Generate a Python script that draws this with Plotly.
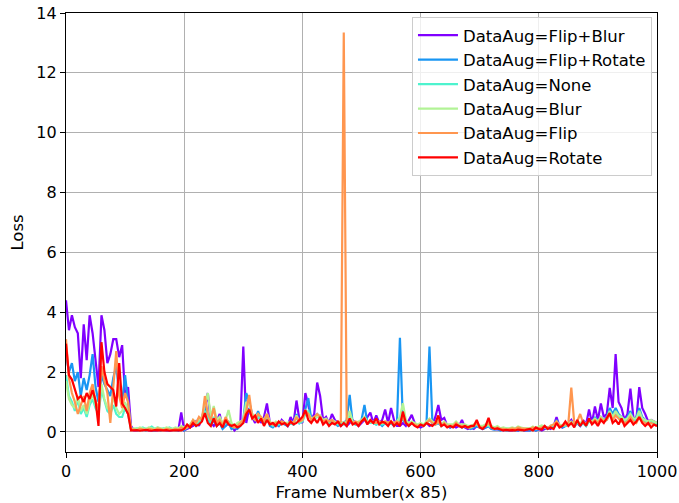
import plotly.graph_objects as go

frames = list(range(0, 1001, 5))

names = ["DataAug=Flip+Blur", "DataAug=Flip+Rotate", "DataAug=None",
         "DataAug=Blur", "DataAug=Flip", "DataAug=Rotate"]
colors = ["#8000ff", "#1996f3", "#4df3ce", "#b2f396", "#ff964f", "#ff0000"]

flip_blur = (
    [4.4, 3.4, 3.9, 3.5, 3.3, 1.8, 3.6, 2.4, 3.9, 3.3, 2.4, 1.5, 3.9, 3.4, 2.3, 2.6, 3.1, 3.1, 2.5, 2.9, 1.2, 1.5, 0.2]
    + [0.05, 0.05, 0.08, 0.06, 0.1, 0.05, 0.04, 0.06, 0.05, 0.08, 0.06, 0.05, 0.04, 0.06, 0.1, 0.05, 0.65]
    + [0.05, 0.1, 0.15, 0.2, 0.35, 0.2, 0.5, 0.8, 1.3, 0.3, 0.2, 0.35, 0.6, 0.15, 0.2, 0.3, 0.2, 0.05, 0.15, 0.3, 2.85, 0.3, 0.8, 0.5, 0.3, 0.6, 0.3]
    + [0.5, 0.95, 0.3, 0.2, 0.3, 0.2, 0.4, 0.3, 0.2, 0.5, 0.3, 1.05, 0.4, 0.3, 1.3, 0.9, 0.4, 0.6, 1.65, 1.2,
       0.4, 0.5, 0.3, 0.6, 0.4, 0.3, 0.2, 0.3, 0.2, 0.3, 0.4, 0.3, 0.2, 0.3, 0.4, 0.5, 0.65, 0.3, 0.55, 0.3,
       0.4, 0.75, 0.3, 0.8, 0.4, 0.2]
    + [0.2, 0.3, 0.2, 0.4, 0.57, 0.3, 0.2, 0.15, 0.2, 0.3, 0.2, 0.25, 0.5, 0.9, 0.4, 0.47, 0.2, 0.15, 0.2, 0.15,
       0.2, 0.4, 0.15, 0.1, 0.15, 0.1, 0.2, 0.15, 0.1, 0.15, 0.2, 0.1, 0.1, 0.1, 0.08, 0.05, 0.08, 0.05, 0.05, 0.08,
       0.05, 0.1, 0.05, 0.05]
    + [0.05, 0.1, 0.05, 0.1, 0.05, 0.1, 0.15, 0.1, 0.2, 0.5, 0.2, 0.15, 0.2, 0.3, 0.4, 0.2, 0.3, 0.2, 0.4, 0.25,
       0.75, 0.3, 0.85, 0.4, 0.95, 0.5, 0.6, 1.47, 0.8, 2.6, 1.0, 0.8, 0.4, 0.6, 1.45, 0.5, 0.4, 1.5, 0.8, 0.6,
       0.35, 0.4, 0.35, 0.3]
)

flip_rotate = (
    [2.6, 2.0, 2.3, 1.7, 2.0, 1.2, 1.8, 1.4, 1.9, 2.6, 1.5, 1.0, 1.9, 1.6, 1.4, 1.2, 1.8, 2.2, 1.3, 1.0, 1.9, 1.0, 0.1]
    + [0.08, 0.05, 0.06, 0.1, 0.05, 0.08, 0.06, 0.04, 0.08, 0.05, 0.1, 0.06, 0.05, 0.08, 0.06, 0.05, 0.1]
    + [0.05, 0.15, 0.2, 0.3, 0.2, 0.35, 0.4, 0.8, 0.5, 0.2, 0.4, 0.2, 0.3, 0.1, 0.2, 0.3, 0.1, 0.15, 0.1, 0.2, 0.4, 1.3, 1.0, 0.6, 0.4, 0.7, 0.4]
    + [0.3, 0.5, 0.2, 0.15, 0.25, 0.2, 0.3, 0.25, 0.2, 0.3, 0.25, 0.6, 0.3, 0.4, 0.8, 1.13, 0.4, 0.5, 0.6, 0.5,
       0.3, 0.4, 0.3, 0.35, 0.3, 0.2, 0.25, 0.3, 0.4, 1.24, 0.3, 0.25, 0.3, 0.4, 0.9, 0.3, 0.35, 0.3, 0.25, 0.3,
       0.2, 0.3, 0.25, 0.3, 0.2, 0.3]
    + [3.15, 0.4, 0.3, 0.2, 0.3, 0.25, 0.2, 0.25, 0.2, 0.3, 2.85, 0.3, 0.25, 0.3, 0.2, 0.3, 0.2, 0.15, 0.2, 0.3,
       0.2, 0.15, 0.2, 0.15, 0.1, 0.15, 0.2, 0.15, 0.1, 0.15, 0.2, 0.1, 0.08, 0.1, 0.05, 0.08, 0.05, 0.05, 0.08, 0.05,
       0.05, 0.1, 0.05, 0.05]
    + [0.05, 0.1, 0.05, 0.1, 0.1, 0.15, 0.1, 0.15, 0.2, 0.4, 0.2, 0.15, 0.2, 0.25, 0.3, 0.2, 0.3, 0.2, 0.3, 0.2,
       0.4, 0.3, 0.5, 0.35, 0.5, 0.4, 0.5, 0.8, 0.6, 0.8, 0.6, 0.5, 0.4, 0.5, 0.7, 0.4, 0.5, 0.8, 0.5, 0.4,
       0.3, 0.35, 0.3, 0.25]
)

none_aug = (
    [1.9, 1.2, 1.0, 0.7, 1.1, 0.6, 0.8, 0.5, 0.9, 1.1, 0.8, 0.6, 1.4, 1.0, 0.7, 0.6, 0.9, 0.6, 0.5, 0.5, 0.8, 0.6, 0.1]
    + [0.1, 0.12, 0.1, 0.15, 0.1, 0.12, 0.18, 0.1, 0.15, 0.1, 0.12, 0.1, 0.15, 0.1, 0.12, 0.1, 0.15]
    + [0.1, 0.15, 0.2, 0.3, 0.25, 0.3, 0.4, 0.7, 0.5, 0.3, 0.5, 0.3, 0.4, 0.2, 0.3, 0.35, 0.2, 0.15, 0.2, 0.25, 0.3, 0.8, 0.7, 0.5, 0.4, 0.5, 0.4]
    + [0.3, 0.5, 0.3, 0.2, 0.3, 0.25, 0.3, 0.3, 0.25, 0.3, 0.25, 0.5, 0.3, 0.35, 0.6, 0.7, 0.4, 0.45, 0.5, 0.5,
       0.35, 0.4, 0.3, 0.35, 0.3, 0.25, 0.3, 0.25, 0.3, 0.6, 0.3, 0.25, 0.3, 0.35, 0.5, 0.3, 0.3, 0.3, 0.25, 0.3,
       0.25, 0.3, 0.25, 0.3, 0.25, 0.3]
    + [0.4, 0.6, 0.3, 0.25, 0.3, 0.25, 0.2, 0.25, 0.2, 0.3, 0.4, 0.3, 0.25, 0.35, 0.2, 0.3, 0.2, 0.2, 0.2, 0.3,
       0.2, 0.2, 0.2, 0.15, 0.15, 0.2, 0.25, 0.15, 0.15, 0.2, 0.2, 0.15, 0.1, 0.15, 0.1, 0.12, 0.1, 0.1, 0.12, 0.1,
       0.15, 0.12, 0.1, 0.1]
    + [0.1, 0.15, 0.1, 0.15, 0.2, 0.15, 0.1, 0.2, 0.2, 0.3, 0.2, 0.2, 0.2, 0.25, 0.3, 0.2, 0.3, 0.25, 0.3, 0.2,
       0.35, 0.3, 0.4, 0.3, 0.4, 0.35, 0.4, 0.6, 0.45, 0.6, 0.5, 0.45, 0.35, 0.4, 0.55, 0.4, 0.4, 0.6, 0.4, 0.35,
       0.3, 0.35, 0.3, 0.3]
)

blur = (
    [1.7, 1.1, 0.9, 0.8, 1.2, 0.7, 0.9, 0.6, 1.0, 1.3, 0.9, 0.7, 1.6, 1.1, 0.8, 0.7, 1.2, 0.8, 0.6, 0.7, 1.0, 0.7, 0.1]
    + [0.12, 0.1, 0.15, 0.12, 0.1, 0.15, 0.12, 0.1, 0.15, 0.12, 0.1, 0.15, 0.12, 0.1, 0.15, 0.12, 0.2]
    + [0.15, 0.2, 0.25, 0.4, 0.3, 0.4, 0.5, 0.9, 1.3, 0.5, 0.87, 0.4, 0.5, 0.3, 0.4, 0.73, 0.3, 0.2, 0.3, 0.35, 0.4, 1.0, 0.9, 0.6, 0.5, 0.6, 0.5]
    + [0.4, 0.6, 0.35, 0.25, 0.35, 0.3, 0.35, 0.3, 0.3, 0.35, 0.3, 0.55, 0.35, 0.4, 0.7, 0.6, 0.45, 0.5, 0.5, 0.55,
       0.4, 0.45, 0.35, 0.4, 0.35, 0.3, 0.35, 0.3, 0.35, 0.7, 0.35, 0.3, 0.35, 0.4, 0.5, 0.35, 0.35, 0.35, 0.3, 0.35,
       0.3, 0.35, 0.3, 0.35, 0.3, 0.35]
    + [0.5, 0.96, 0.4, 0.3, 0.35, 0.3, 0.25, 0.3, 0.25, 0.35, 0.45, 0.35, 0.3, 0.4, 0.25, 0.35, 0.25, 0.25, 0.25, 0.35,
       0.25, 0.25, 0.25, 0.2, 0.2, 0.25, 0.3, 0.2, 0.2, 0.25, 0.25, 0.2, 0.15, 0.2, 0.12, 0.15, 0.12, 0.12, 0.15, 0.12,
       0.18, 0.15, 0.12, 0.12]
    + [0.12, 0.18, 0.12, 0.18, 0.22, 0.18, 0.12, 0.22, 0.25, 0.35, 0.25, 0.22, 0.25, 0.3, 0.35, 0.25, 0.35, 0.3, 0.35, 0.25,
       0.4, 0.35, 0.45, 0.35, 0.5, 0.4, 0.45, 0.7, 0.5, 0.7, 0.55, 0.5, 0.4, 0.45, 0.6, 0.45, 0.45, 0.7, 0.45, 0.4,
       0.35, 0.4, 0.35, 0.3]
)

flip = (
    [3.1, 1.8, 1.3, 1.0, 0.6, 0.9, 1.2, 0.7, 1.3, 1.6, 1.0, 0.8, 2.2, 1.7, 1.3, 0.3, 1.5, 2.7, 1.2, 0.8, 1.3, 1.0, 0.1]
    + [0.08, 0.06, 0.1, 0.08, 0.06, 0.1, 0.08, 0.06, 0.12, 0.08, 0.06, 0.1, 0.08, 0.06, 0.1, 0.08, 0.15]
    + [0.1, 0.15, 0.2, 0.4, 0.3, 0.5, 0.4, 1.2, 0.6, 0.4, 0.8, 0.3, 0.4, 0.2, 0.5, 0.3, 0.2, 0.15, 0.2, 0.3, 0.4, 0.7, 1.24, 0.5, 0.4, 0.6, 0.5]
    + [0.35, 0.6, 0.3, 0.25, 0.3, 0.3, 0.35, 0.3, 0.25, 0.3, 0.3, 0.5, 0.35, 0.4, 0.7, 0.6, 0.4, 0.5, 0.6, 0.5,
       0.35, 0.4, 0.35, 0.4, 0.3, 0.3, 0.35, 13.35, 0.3, 0.4, 0.3, 0.35, 0.3, 0.35, 0.45, 0.3, 0.35, 0.3, 0.3, 0.35,
       0.3, 0.35, 0.3, 0.35, 0.3, 0.35]
    + [0.3, 0.5, 0.3, 0.25, 0.3, 0.25, 0.2, 0.25, 0.2, 0.3, 0.4, 0.3, 0.25, 0.35, 0.2, 0.3, 0.2, 0.2, 0.2, 0.3,
       0.2, 0.2, 0.2, 0.15, 0.15, 0.2, 0.3, 0.15, 0.15, 0.2, 0.3, 0.15, 0.1, 0.15, 0.1, 0.1, 0.08, 0.1, 0.12, 0.1,
       0.15, 0.12, 0.1, 0.1]
    + [0.1, 0.15, 0.1, 0.12, 0.15, 0.2, 0.12, 0.2, 0.25, 0.35, 0.2, 0.2, 0.25, 0.3, 1.48, 0.3, 0.35, 0.6, 0.3, 0.25,
       0.4, 0.3, 0.4, 0.3, 0.45, 0.35, 0.4, 0.6, 0.4, 0.55, 0.45, 0.35, 0.3, 0.35, 0.5, 0.35, 0.3, 0.5, 0.35, 0.3,
       0.25, 0.3, 0.25, 0.2]
)

rotate = (
    [2.95, 1.9, 1.75, 1.4, 1.1, 1.2, 1.0, 1.3, 1.1, 1.4, 1.05, 0.2, 3.0, 2.0, 1.6, 1.5, 1.4, 0.85, 2.3, 0.95, 0.8, 0.6, 0.05]
    + [0.05, 0.06, 0.04, 0.05, 0.07, 0.05, 0.04, 0.06, 0.05, 0.04, 0.05, 0.06, 0.04, 0.05, 0.06, 0.05, 0.05]
    + [0.1, 0.25, 0.15, 0.3, 0.2, 0.25, 0.35, 0.63, 0.3, 0.2, 0.45, 0.2, 0.3, 0.15, 0.4, 0.25, 0.2, 0.25, 0.15, 0.2, 0.3, 0.6, 0.75, 0.45, 0.55, 0.3, 0.45]
    + [0.2, 0.4, 0.25, 0.3, 0.2, 0.35, 0.25, 0.3, 0.2, 0.35, 0.25, 0.3, 0.4, 0.5, 0.73, 0.4, 0.3, 0.45, 0.3, 0.5,
       0.25, 0.35, 0.2, 0.3, 0.25, 0.35, 0.2, 0.3, 0.2, 0.45, 0.25, 0.3, 0.2, 0.35, 0.45, 0.25, 0.4, 0.3, 0.45, 0.25,
       0.35, 0.3, 0.2, 0.35, 0.2, 0.3]
    + [0.2, 0.68, 0.3, 0.2, 0.3, 0.2, 0.15, 0.25, 0.2, 0.3, 0.25, 0.2, 0.3, 0.55, 0.2, 0.25, 0.15, 0.2, 0.15, 0.25,
       0.2, 0.15, 0.2, 0.15, 0.2, 0.2, 0.4, 0.15, 0.1, 0.2, 0.47, 0.15, 0.1, 0.12, 0.08, 0.05, 0.07, 0.05, 0.06, 0.05,
       0.08, 0.06, 0.05, 0.08]
    + [0.1, 0.05, 0.15, 0.1, 0.08, 0.2, 0.1, 0.15, 0.1, 0.3, 0.15, 0.2, 0.35, 0.2, 0.3, 0.15, 0.4, 0.2, 0.35, 0.2,
       0.45, 0.25, 0.35, 0.2, 0.4, 0.3, 0.45, 0.63, 0.3, 0.4, 0.25, 0.45, 0.2, 0.3, 0.4, 0.25, 0.35, 0.5, 0.3, 0.2,
       0.3, 0.15, 0.25, 0.2]
)

series = [flip_blur, flip_rotate, none_aug, blur, flip, rotate]

x_ticks = [0, 200, 400, 600, 800, 1000]
y_ticks = [0, 2, 4, 6, 8, 10, 12, 14]

fig = go.Figure()
for name, col, vals in zip(names, colors, series):
    fig.add_trace(go.Scatter(x=frames, y=vals, mode="lines", name=name,
                             line=dict(color=col, width=2.2)))

axis_common = dict(showline=True, linecolor="black", linewidth=1.2, mirror=True,
                   ticks="outside", ticklen=5, tickcolor="black", tickwidth=1.2,
                   showgrid=True, gridcolor="#b0b0b0", gridwidth=1.2,
                   zeroline=False, automargin=False,
                   tickfont=dict(size=16, color="black"))

fig.update_layout(
    width=679, height=503,
    margin=dict(l=66, r=22, t=13, b=51),
    paper_bgcolor="white", plot_bgcolor="white",
    font=dict(family="DejaVu Sans", color="black"),
    xaxis=dict(range=[0, 1000], tickvals=x_ticks,
               title=dict(text="Frame Number(x 85)", font=dict(size=16.5), standoff=6),
               **axis_common),
    yaxis=dict(range=[-0.67, 14.0], tickvals=y_ticks,
               title=dict(text="Loss", font=dict(size=16.5), standoff=8),
               **axis_common),
    legend=dict(x=0.9915, y=0.991, xanchor="right", yanchor="top",
                bgcolor="rgba(255,255,255,0.8)", bordercolor="#cccccc", borderwidth=1,
                font=dict(size=16.5), tracegroupgap=0, itemwidth=40),
    showlegend=True,
)

fig.write_html("out.html",
               config={"displayModeBar": False},
               post_script="document.body.style.margin='0';document.body.style.padding='0';")
